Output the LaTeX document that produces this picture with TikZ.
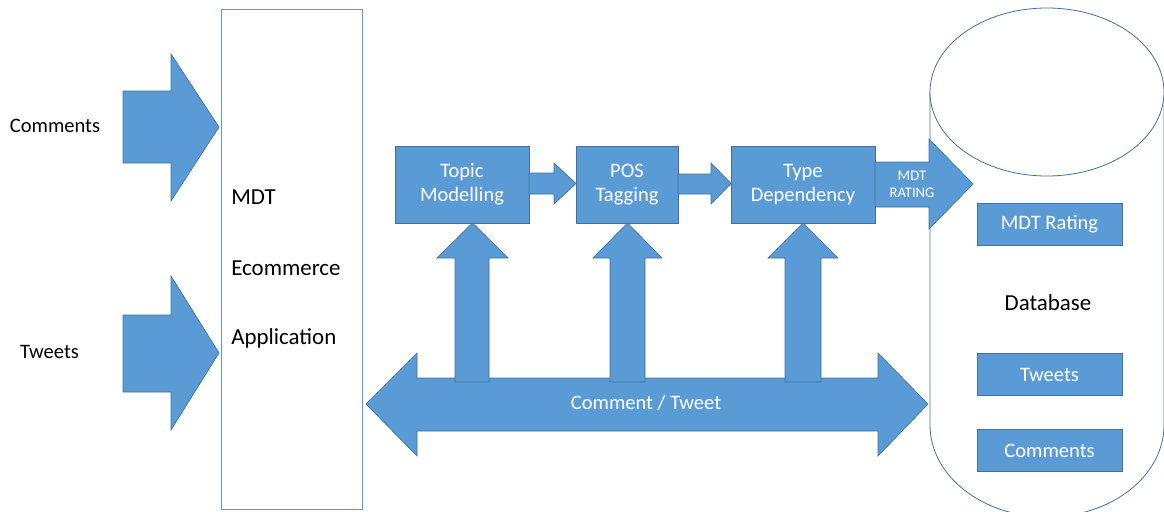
\documentclass[tikz,border=0pt]{standalone}
\usepackage{fontspec}
\setmainfont{Carlito}
\usepackage{xcolor}
\usepackage{tikz}

\definecolor{officeblue}{HTML}{5B9BD5}
\definecolor{officeedge}{HTML}{41719C}
\newcommand{\txtbig}{\fontsize{17.2}{20}\selectfont}
\newcommand{\txtmid}{\fontsize{15.4}{18}\selectfont}
\newcommand{\txtsmall}{\fontsize{11}{12.8}\selectfont}

\tikzset{
  blk/.style={fill=officeblue, draw=officeedge, line width=0.5pt, line join=miter},
  procbox/.style={blk, text=white, align=center, font=\txtmid, minimum height=57.75pt, inner sep=0pt},
  dbbox/.style={blk, text=white, font=\txtmid, minimum width=108.75pt, minimum height=31.5pt, inner sep=0pt},
}

\begin{document}
\begin{tikzpicture}[x=0.75pt,y=-0.75pt]
  \useasboundingbox (0,0) rectangle (1164,511);

  % application frame
  \node[draw=officeblue, line width=0.6pt, minimum width=105.75pt, minimum height=375pt, inner sep=0pt] (app) at (291.5,259) {};
  \node[anchor=west, font=\txtbig, inner sep=0pt] (appa) at (231,197) {MDT};
  \node[anchor=west, font=\txtbig, inner sep=0pt] (appb) at (231,268) {Ecommerce};
  \node[anchor=west, font=\txtbig, inner sep=0pt] (appc) at (231,338) {Application};

  % inputs
  \node[font=\txtmid] (incomments) at (55,126) {Comments};
  \node[font=\txtmid] (intweets) at (49.5,352) {Tweets};
  \draw[blk] (123,91) -- (171,91) -- (171,54) -- (219,127) -- (171,201) -- (171,163) -- (123,163) -- cycle;
  \draw[blk] (123,315) -- (171,315) -- (171,276) -- (219,353) -- (171,430) -- (171,392) -- (123,392) -- cycle;

  % database cylinder
  \draw[officeedge, line width=0.6pt, fill=white] (930,92) -- (930,425)
    arc[start angle=180, end angle=0, x radius=117, y radius=92] -- (1164,92);
  \draw[officeedge, line width=0.6pt, fill=white] (1047,92) ellipse [x radius=117, y radius=84];
  \node[font=\txtbig] (db) at (1048,303) {Database};
  \node[dbbox] (dbrating) at (1049.5,224) {MDT Rating};
  \node[dbbox] (dbtweets) at (1049.5,374.5) {Tweets};
  \node[dbbox] (dbcomments) at (1049.5,450.5) {Comments};

  % processing chain
  \node[procbox, minimum width=100.5pt] (topic) at (462,184.5) {Topic\\Modelling};
  \node[procbox, minimum width=76.5pt] (pos) at (627,184.5) {POS\\Tagging};
  \node[procbox, minimum width=108pt] (typedep) at (803,184.5) {Type\\Dependency};
  \draw[blk] (529,173) -- (554,173) -- (554,163) -- (576,183.5) -- (554,204) -- (554,194) -- (529,194) -- cycle;
  \draw[blk] (678,174) -- (711,174) -- (711,163) -- (731,183.5) -- (711,204) -- (711,194) -- (678,194) -- cycle;

  % rating into the database
  \draw[blk] (875,162) -- (929,162) -- (929,139) -- (973,184) -- (929,229) -- (929,207) -- (875,207) -- cycle;
  \node[text=white, align=center, font=\txtsmall, inner sep=0pt] (rating) at (912,184.5) {MDT\\RATING};

  % comment / tweet bus
  \draw[blk] (366,404) -- (417,353) -- (417,378) -- (878,378) -- (878,353) -- (928,404)
    -- (878,456) -- (878,431) -- (417,431) -- (417,456) -- cycle;
  \node[text=white, font=\txtmid] (bus) at (646,403) {Comment / Tweet};

  % feeds up into each step
  \draw[blk] (455,382) -- (455,258) -- (437,258) -- (472.5,223) -- (508,258) -- (489,258) -- (489,382) -- cycle;
  \draw[blk] (610,382) -- (610,258) -- (593,258) -- (627.5,223) -- (662,258) -- (645,258) -- (645,382) -- cycle;
  \draw[blk] (785,382) -- (785,258) -- (768,258) -- (803,223) -- (838,258) -- (821,258) -- (821,382) -- cycle;
\end{tikzpicture}
\end{document}
